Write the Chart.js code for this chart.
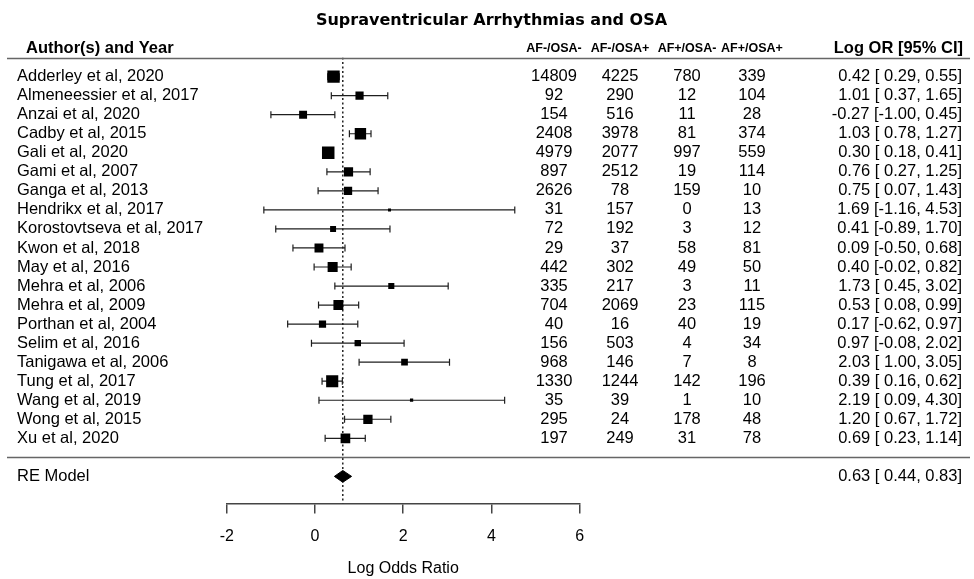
<!DOCTYPE html>
<html lang="en">
<head>
<meta charset="UTF-8">
<title>Supraventricular Arrhythmias and OSA</title>
<script src="https://cdn.jsdelivr.net/npm/chart.js@4.4.1/dist/chart.umd.min.js"></script>
<style>
  html, body { margin: 0; padding: 0; background: #fff; }
  #wrap { width: 974px; height: 579px; position: relative; }
</style>
</head>
<body>
<div id="wrap"><canvas id="forest"></canvas></div>
<script>
    const chartTitle = 'Supraventricular Arrhythmias and OSA';
    const studies = [
        'Adderley et al, 2020', 'Almeneessier et al, 2017', 'Anzai et al, 2020', 'Cadby et al, 2015',
        'Gali et al, 2020', 'Gami et al, 2007', 'Ganga et al, 2013', 'Hendrikx et al, 2017',
        'Korostovtseva et al, 2017', 'Kwon et al, 2018', 'May et al, 2016', 'Mehra et al, 2006',
        'Mehra et al, 2009', 'Porthan et al, 2004', 'Selim et al, 2016', 'Tanigawa et al, 2006',
        'Tung et al, 2017', 'Wang et al, 2019', 'Wong et al, 2015', 'Xu et al, 2020'
    ];
    const colHeaders = ['AF-/OSA-', 'AF-/OSA+', 'AF+/OSA-', 'AF+/OSA+'];
    const afNoOsaNo   = [14809, 92, 154, 2408, 4979, 897, 2626, 31, 72, 29, 442, 335, 704, 40, 156, 968, 1330, 35, 295, 197];
    const afNoOsaYes  = [4225, 290, 516, 3978, 2077, 2512, 78, 157, 192, 37, 302, 217, 2069, 16, 503, 146, 1244, 39, 24, 249];
    const afYesOsaNo  = [780, 12, 11, 81, 997, 19, 159, 0, 3, 58, 49, 3, 23, 40, 4, 7, 142, 1, 178, 31];
    const afYesOsaYes = [339, 104, 28, 374, 559, 114, 10, 13, 12, 81, 50, 11, 115, 19, 34, 8, 196, 10, 48, 78];
    const logOR  = [0.42, 1.01, -0.27, 1.03, 0.30, 0.76, 0.75, 1.69, 0.41, 0.09, 0.40, 1.73, 0.53, 0.17, 0.97, 2.03, 0.39, 2.19, 1.20, 0.69];
    const ciLow  = [0.29, 0.37, -1.00, 0.78, 0.18, 0.27, 0.07, -1.16, -0.89, -0.50, -0.02, 0.45, 0.08, -0.62, -0.08, 1.00, 0.16, 0.09, 0.67, 0.23];
    const ciHigh = [0.55, 1.65, 0.45, 1.27, 0.41, 1.25, 1.43, 4.53, 1.70, 0.68, 0.82, 3.02, 0.99, 0.97, 2.02, 3.05, 0.62, 4.30, 1.72, 1.14];
    // study weights (%)
    const weights = [8.4, 5.0, 4.8, 7.6, 8.5, 5.8, 5.0, 0.8, 3.2, 5.6, 6.5, 3.3, 6.4, 4.2, 3.6, 3.8, 8.2, 1.0, 5.9, 6.2];
    const reLabel = 'RE Model';
    const reEst = 0.63, reLow = 0.44, reHigh = 0.83;
    const xTicks = [-2, 0, 2, 4, 6];

    const FONT = '"Liberation Sans", Arial, Helvetica, sans-serif';
    const LINE_COL = '#1e1e1e';
    const RE_ROW = studies.length + 1;
    const Y_MAX = 22.43;

    // box side in px: linear in weight, like metafor
    const wMin = Math.min(...weights), wMax = Math.max(...weights);
    const boxSide = weights.map(w => 3 + 9.5 * (w - wMin) / (wMax - wMin));

    function fmt(v) { return v.toFixed(2); }
    function ciText(est, lo, hi) {
        return fmt(est) + ' [' + (lo < 0 ? '' : ' ') + fmt(lo) + ', ' + fmt(hi) + ']';
    }

    const datasets = [];
    // squares
    datasets.push({
        type: 'scatter',
        data: logOR.map((v, i) => ({ x: v, y: i })),
        pointStyle: 'rect',
        pointRadius: boxSide.map(s => s / Math.SQRT2),
        backgroundColor: '#000',
        borderWidth: 0,
        order: 0
    });
    // confidence intervals
    studies.forEach((s, i) => {
        datasets.push({
            type: 'line',
            data: [{ x: ciLow[i], y: i }, { x: ciHigh[i], y: i }],
            borderColor: LINE_COL,
            borderWidth: 1.2,
            pointStyle: 'line',
            pointRotation: 90,
            pointRadius: 3.5,
            pointBorderColor: LINE_COL,
            pointBorderWidth: 1.2,
            fill: false,
            order: 1
        });
    });
    // RE diamond
    const dh = 0.31;
    datasets.push({
        type: 'line',
        data: [
            { x: reLow, y: RE_ROW }, { x: reEst, y: RE_ROW - dh },
            { x: reHigh, y: RE_ROW }, { x: reEst, y: RE_ROW + dh }, { x: reLow, y: RE_ROW }
        ],
        borderColor: '#000',
        backgroundColor: '#000',
        borderWidth: 1,
        fill: 'shape',
        pointRadius: 0,
        order: 0
    });
    // dotted reference line at the pooled estimate
    datasets.push({
        type: 'line',
        data: [{ x: reEst, y: -1 }, { x: reEst, y: Y_MAX }],
        borderColor: '#222',
        borderWidth: 1.5,
        borderDash: [2, 2.5],
        pointRadius: 0,
        fill: false,
        order: 2
    });

    const textPlugin = {
        id: 'forestText',
        afterDraw(chart) {
            const ctx = chart.ctx;
            const rowY = r => chart.scales.y.getPixelForValue(r);
            const colX = [554, 620, 687, 752];
            ctx.save();
            ctx.fillStyle = '#000';
            ctx.textBaseline = 'middle';

            ctx.font = 'bold 16px "DejaVu Sans", sans-serif';
            ctx.textAlign = 'center';
            ctx.fillText(chartTitle, 491.5, 21);

            ctx.font = 'bold 16.5px ' + FONT;
            ctx.textAlign = 'left';
            ctx.fillText('Author(s) and Year', 26, rowY(-1.5));
            ctx.textAlign = 'right';
            ctx.fillText('Log OR [95% CI]', 963, rowY(-1.5));
            ctx.font = 'bold 12.5px ' + FONT;
            ctx.textAlign = 'center';
            colHeaders.forEach((h, k) => ctx.fillText(h, colX[k], rowY(-1.5)));

            // header rule and separator
            ctx.strokeStyle = '#666';
            ctx.lineWidth = 1.5;
            [-1, studies.length].forEach(r => {
                const yy = Math.round(rowY(r)) + 0.5;
                ctx.beginPath();
                ctx.moveTo(7, yy);
                ctx.lineTo(970, yy);
                ctx.stroke();
            });

            ctx.font = '16.5px ' + FONT;
            studies.forEach((s, i) => {
                const yy = rowY(i);
                ctx.textAlign = 'left';
                ctx.fillText(s, 17, yy);
                ctx.textAlign = 'center';
                [afNoOsaNo, afNoOsaYes, afYesOsaNo, afYesOsaYes].forEach((arr, k) => {
                    ctx.fillText(String(arr[i]), colX[k], yy);
                });
                ctx.textAlign = 'right';
                ctx.fillText(ciText(logOR[i], ciLow[i], ciHigh[i]), 962, yy);
            });
            ctx.textAlign = 'left';
            ctx.fillText(reLabel, 17, rowY(RE_ROW));
            ctx.textAlign = 'right';
            ctx.fillText(ciText(reEst, reLow, reHigh), 962, rowY(RE_ROW));
            ctx.restore();
        }
    };

    new Chart(document.getElementById('forest'), {
        type: 'scatter',
        data: { datasets: datasets },
        options: {
            responsive: true,
            maintainAspectRatio: false,
            devicePixelRatio: 1,
            animation: false,
            events: [],
            layout: { padding: { left: 226.8, right: 394.4, top: 57.6, bottom: 0 } },
            plugins: { legend: { display: false }, tooltip: { enabled: false } },
            scales: {
                x: {
                    type: 'linear',
                    min: -2,
                    max: 6,
                    afterBuildTicks: scale => { scale.ticks = xTicks.map(v => ({ value: v })); },
                    ticks: { color: '#000', padding: 13, font: { family: FONT, size: 16 } },
                    grid: { drawOnChartArea: false, drawTicks: true, tickLength: 10, color: '#444', lineWidth: 1.5 },
                    border: { display: true, color: '#444', width: 1.5 },
                    title: {
                        display: true,
                        text: 'Log Odds Ratio',
                        color: '#000',
                        font: { family: FONT, size: 16 },
                        padding: { top: 0, bottom: 1 }
                    }
                },
                y: { type: 'linear', reverse: true, min: -1, max: Y_MAX, display: false }
            }
        },
        plugins: [textPlugin]
    });
</script>
</body>
</html>
